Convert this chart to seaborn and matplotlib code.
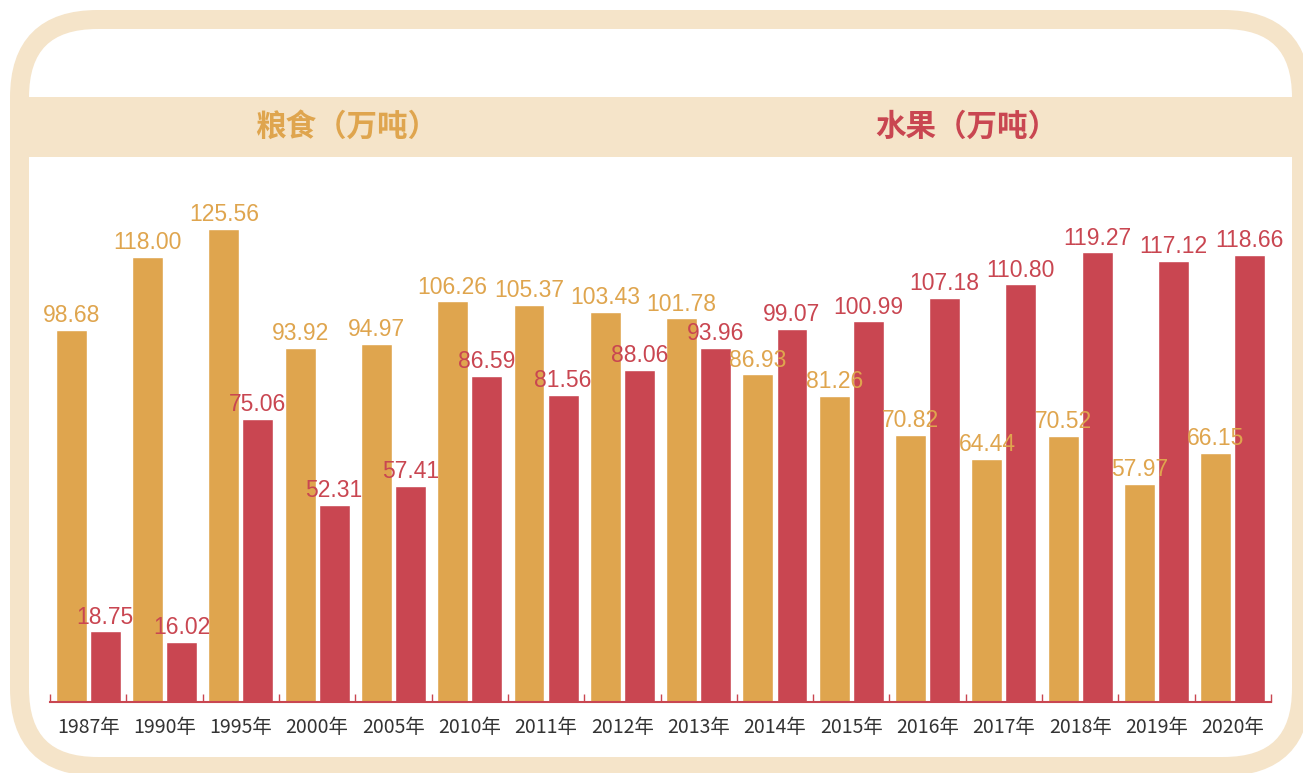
import matplotlib
matplotlib.use('Agg')
import numpy as np
import pandas as pd
import seaborn as sns
import matplotlib.pyplot as plt
from matplotlib.patches import FancyBboxPatch, Rectangle

# ---- data ----
years = ['1987年', '1990年', '1995年', '2000年', '2005年', '2010年', '2011年', '2012年',
         '2013年', '2014年', '2015年', '2016年', '2017年', '2018年', '2019年', '2020年']
grain = [98.68, 118.00, 125.56, 93.92, 94.97, 106.26, 105.37, 103.43,
         101.78, 86.93, 81.26, 70.82, 64.44, 70.52, 57.97, 66.15]
fruit = [18.75, 16.02, 75.06, 52.31, 57.41, 86.59, 81.56, 88.06,
         93.96, 99.07, 100.99, 107.18, 110.80, 119.27, 117.12, 118.66]
series_names = ['粮食', '水果']
header_titles = ['粮食（万吨）', '水果（万吨）']

ORANGE = '#DFA54E'
RED = '#C94651'
BEIGE = '#F5E4C9'
TEXT = '#333333'

sns.set_theme(style='white')
plt.rcParams['font.family'] = ['Noto Sans CJK SC', 'DejaVu Sans']

W, H = 1303, 773
fig = plt.figure(figsize=(W / 100, H / 100), dpi=100)
fig.patch.set_facecolor('white')

# background / frame axes in pixel coordinates
bg = fig.add_axes([0, 0, 1, 1])
bg.set_xlim(0, W)
bg.set_ylim(H, 0)
bg.axis('off')
frame = FancyBboxPatch((19.5, 19.5), 1301.5 - 19.5, 766.5 - 19.5,
                       boxstyle='round,pad=0,rounding_size=78',
                       facecolor='none', edgecolor=BEIGE, linewidth=19 * 0.72)
bg.add_patch(frame)
bg.add_patch(Rectangle((29, 97), 1292 - 29, 60, facecolor=BEIGE, edgecolor='none'))
bg.text(347, 127, header_titles[0], color=ORANGE, fontsize=22, fontweight='bold',
        ha='center', va='center')
bg.text(967, 127, header_titles[1], color=RED, fontsize=22, fontweight='bold',
        ha='center', va='center')

# chart axes
ax = fig.add_axes([50 / W, 71 / H, 1221 / W, 542 / H])
ax.patch.set_alpha(0)
df = pd.DataFrame({
    'year': years * 2,
    'value': grain + fruit,
    'kind': [series_names[0]] * len(years) + [series_names[1]] * len(years),
})
sns.barplot(data=df, x='year', y='value', hue='kind', palette=[ORANGE, RED],
            width=0.892, gap=0.09, saturation=1, errorbar=None, legend=False, ax=ax)

ax.set_xlim(-0.5, len(years) - 0.5)
ax.set_ylim(0, 143.8)
ax.set_xlabel('')
ax.set_ylabel('')
ax.set_yticks([])
for s in ['left', 'top', 'right']:
    ax.spines[s].set_visible(False)
ax.spines['bottom'].set_color(RED)
ax.spines['bottom'].set_linewidth(1.5)
ax.tick_params(axis='x', which='major', length=0, pad=10.5, labelsize=14, labelcolor=TEXT)
for lab in ax.get_xticklabels():
    lab.set_fontweight('light')
ax.set_xticks(np.arange(-0.5, len(years), 1), minor=True)
ax.tick_params(axis='x', which='minor', direction='in', length=6, width=1, color=RED,
               bottom=True)

for cont, col in zip(ax.containers, [ORANGE, RED]):
    ax.bar_label(cont, fmt='%.2f', color=col, fontsize=16.5, padding=2,
                 family=['Liberation Sans', 'DejaVu Sans'])

fig.savefig('out.png', dpi=100, facecolor='white')
